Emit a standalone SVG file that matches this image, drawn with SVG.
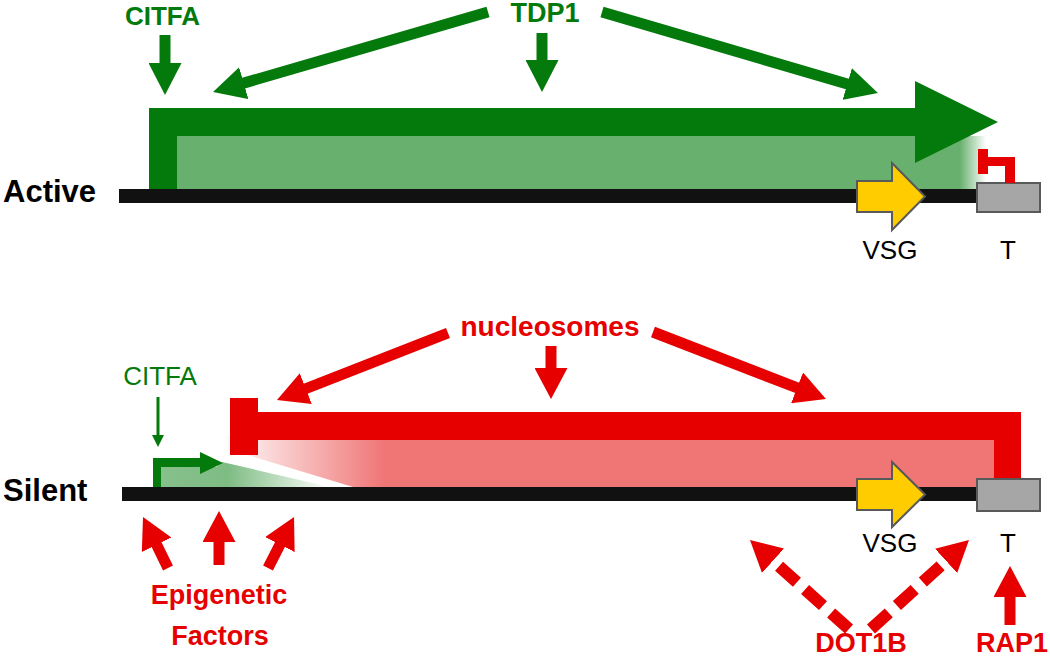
<svg xmlns="http://www.w3.org/2000/svg" width="1050" height="659" viewBox="0 0 1050 659">
<style>
text{font-family:"Liberation Sans",Arial,sans-serif}
.b{font-weight:bold}
.g{fill:#037a0b}
.r{fill:#e60000}
.k{fill:#000}
.dna{fill:#111}
.tbox{fill:#a6a6a6;stroke:#595959;stroke-width:2}
.vsg{fill:#ffcc00;stroke:#595959;stroke-width:2}
.ga{stroke:#037a0b;stroke-width:11;fill:none}
.ra{stroke:#e60000;stroke-width:11;fill:none}
.rd{stroke:#e60000;stroke-width:12;fill:none;stroke-dasharray:24 11}
</style>
<defs>
<marker id="ahG" markerUnits="userSpaceOnUse" markerWidth="32" markerHeight="33" viewBox="0 0 32 33" refX="1" refY="16.5" orient="auto"><path d="M0,0 L32,16.5 L0,33 Z" fill="#037a0b"/></marker>
<marker id="ahR" markerUnits="userSpaceOnUse" markerWidth="31" markerHeight="33" viewBox="0 0 31 33" refX="1" refY="16.5" orient="auto"><path d="M0,0 L31,16.5 L0,33 Z" fill="#e60000"/></marker>
<marker id="ahGs" markerUnits="userSpaceOnUse" markerWidth="12" markerHeight="12" viewBox="0 0 12 12" refX="1" refY="6" orient="auto"><path d="M0,0 L12,6 L0,12 Z" fill="#037a0b"/></marker>
<linearGradient id="gfade" gradientUnits="userSpaceOnUse" x1="960" y1="0" x2="986" y2="0"><stop offset="0" stop-color="#68b06e"/><stop offset="1" stop-color="#68b06e" stop-opacity="0"/></linearGradient>
<linearGradient id="gfade2" gradientUnits="userSpaceOnUse" x1="160" y1="0" x2="330" y2="0"><stop offset="0" stop-color="#68b06e" stop-opacity="0.8"/><stop offset="0.4" stop-color="#68b06e" stop-opacity="0.85"/><stop offset="1" stop-color="#68b06e" stop-opacity="0"/></linearGradient>
<linearGradient id="rfade" gradientUnits="userSpaceOnUse" x1="222" y1="0" x2="385" y2="0"><stop offset="0" stop-color="#f07575" stop-opacity="0"/><stop offset="1" stop-color="#f07575"/></linearGradient>
</defs>

<g id="active-label"><text class="b k" x="3" y="202" font-size="31">Active</text></g>
<g id="silent-label"><text class="b k" x="3" y="501" font-size="31">Silent</text></g>

<g id="active-transcription">
<rect x="177" y="136" width="809" height="53" fill="url(#gfade)"/>
<path d="M149,189 V108 H915 V81 L998,122 L915,163 V136 H177 V189 Z" fill="#037a0b"/>
</g>
<g id="active-dna"><rect class="dna" x="119" y="189" width="858" height="14"/></g>
<g id="active-vsg"><path class="vsg" d="M857,181 H892 V163 L925,196.5 L892,230 V212 H857 Z"/><text class="k" x="890" y="259" font-size="26" text-anchor="middle">VSG</text></g>
<g id="active-t"><rect class="tbox" x="977" y="183" width="63" height="29"/><text class="k" x="1008" y="259" font-size="26" text-anchor="middle">T</text></g>
<g id="active-terminator"><path d="M978,149 H988 V157 H1015 V183 H1005 V166 H988 V174 H978 Z" fill="#e60000"/></g>
<g id="active-citfa"><text class="b g" x="162.5" y="25" font-size="26" text-anchor="middle">CITFA</text></g>
<g id="tdp1"><text class="b g" x="545" y="22" font-size="27" text-anchor="middle">TDP1</text></g>

<g id="silent-promoter">
<path d="M161,467 H216 L222,462 L330,487 H161 Z" fill="url(#gfade2)"/>
<path d="M153,487 V458 H200 V452 L223,463 L200,474 V467 H161 V487 Z" fill="#037a0b"/>
</g>
<g id="silent-block">
<path d="M218,436 H994 V487 H353 L218,446 Z" fill="url(#rfade)"/>
<path d="M230,398 H258 V412 H1021 V479 H994 V440 H258 V455 H230 Z" fill="#e60000"/>
</g>
<g id="silent-dna"><rect class="dna" x="122" y="487" width="855" height="14"/></g>
<g id="silent-vsg"><path class="vsg" d="M857,479 H892 V462 L925,494.5 L892,527 V510 H857 Z"/><text class="k" x="890" y="552" font-size="26" text-anchor="middle">VSG</text></g>
<g id="silent-t"><rect class="tbox" x="977" y="479" width="63" height="32"/><text class="k" x="1008" y="552" font-size="26" text-anchor="middle">T</text></g>
<g id="silent-citfa"><text class="g" x="160" y="385" font-size="26" text-anchor="middle">CITFA</text></g>
<g id="nucleosomes"><text class="b r" x="550" y="336" font-size="28" text-anchor="middle">nucleosomes</text></g>
<g id="epigenetic"><text class="b r" x="219" y="604" font-size="27" text-anchor="middle">Epigenetic</text><text class="b r" x="220" y="645" font-size="27" text-anchor="middle">Factors</text></g>
<g id="dot1b"><text class="b r" x="861" y="652" font-size="27" text-anchor="middle">DOT1B</text></g>
<g id="rap1"><text class="b r" x="1012" y="652" font-size="27" text-anchor="middle">RAP1</text></g>

<g id="connectors">
<line class="ga" x1="165" y1="35" x2="165" y2="64" marker-end="url(#ahG)"/>
<line class="ga" x1="542" y1="33" x2="542" y2="61" marker-end="url(#ahG)"/>
<line class="ga" x1="488" y1="12" x2="242.8" y2="83.4" marker-end="url(#ahG)"/>
<line class="ga" x1="602" y1="12" x2="848.2" y2="84.3" marker-end="url(#ahG)"/>
<line x1="158" y1="397" x2="158" y2="436" stroke="#037a0b" stroke-width="3" marker-end="url(#ahGs)"/>
<line class="ra" x1="551" y1="346" x2="551" y2="369" marker-end="url(#ahR)"/>
<line class="ra" x1="448" y1="333" x2="304.9" y2="389" marker-end="url(#ahR)"/>
<line class="ra" x1="653" y1="332" x2="798" y2="388.2" marker-end="url(#ahR)"/>
<line class="ra" x1="168" y1="568" x2="156.2" y2="543.9" marker-end="url(#ahR)"/>
<line class="ra" x1="219" y1="565" x2="219" y2="541" marker-end="url(#ahR)"/>
<line class="ra" x1="268" y1="568" x2="280.4" y2="543.7" marker-end="url(#ahR)"/>
<line class="rd" x1="849" y1="629" x2="772.3" y2="560.1" marker-end="url(#ahR)"/>
<line class="rd" x1="871" y1="629" x2="946.8" y2="560.2" marker-end="url(#ahR)"/>
<line class="ra" x1="1010" y1="625" x2="1010" y2="596" marker-end="url(#ahR)"/>
</g>
</svg>
